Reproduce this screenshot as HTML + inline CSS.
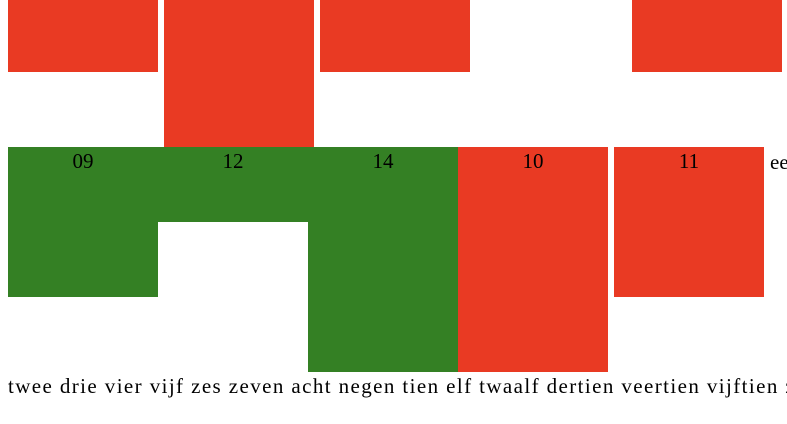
<!DOCTYPE html>
<html><head><meta charset="utf-8"><style>
body{margin:0;width:787px;height:424px;overflow:hidden;background:#fff;position:relative}
*{font-family:"Liberation Serif","Times New Roman",Times,"Noto Serif CJK SC","DejaVu Serif",serif !important}
.b{position:absolute}
.lbl{position:absolute;width:150px;text-align:center;color:#000;font-size:21px}
#words{position:absolute;left:8px;top:374px;white-space:nowrap;font-size:21px;letter-spacing:1.4px}
#ee{position:absolute;left:770px;top:150px;font-size:21px}
</style></head><body>
<div id="chart-area"></div>
<div id="ee">ee</div>
<div id="words">twee drie vier vijf zes zeven acht negen tien elf twaalf dertien veertien vijftien zestien</div>
<script>
const topValues=[1,2,1,0,1];
const topColors=['#e93a23','#e93a23','#e93a23','#e93a23','#e93a23'];
const bottomLabels=['09','12','14','10','11'];
const bottomValues=[2,1,3,3,2];
const bottomColors=['#348024','#348024','#348024','#e93a23','#e93a23'];
const baseY=147;
const topX=[8,164,320,476,632];
const botX=[8,158,308,458,614];
const area=document.getElementById('chart-area');
topValues.forEach((v,i)=>{
  const d=document.createElement('div');d.className='b';
  
  
  const h=v===0?0:(v*75-3);
  d.style.cssText=`left:${topX[i]}px;top:0px;width:150px;height:${h}px;background:${topColors[i]}`;
  area.appendChild(d);
});
bottomValues.forEach((v,i)=>{
  const d=document.createElement('div');d.className='b';
  
  
  d.style.cssText=`left:${botX[i]}px;top:${baseY}px;width:150px;height:${v*75}px;background:${bottomColors[i]}`;
  area.appendChild(d);
  const l=document.createElement('div');l.className='lbl';
  
  
  l.style.left=botX[i]+'px';l.style.top='149px';l.textContent=bottomLabels[i];
  area.appendChild(l);
});
</script>
</body></html>
